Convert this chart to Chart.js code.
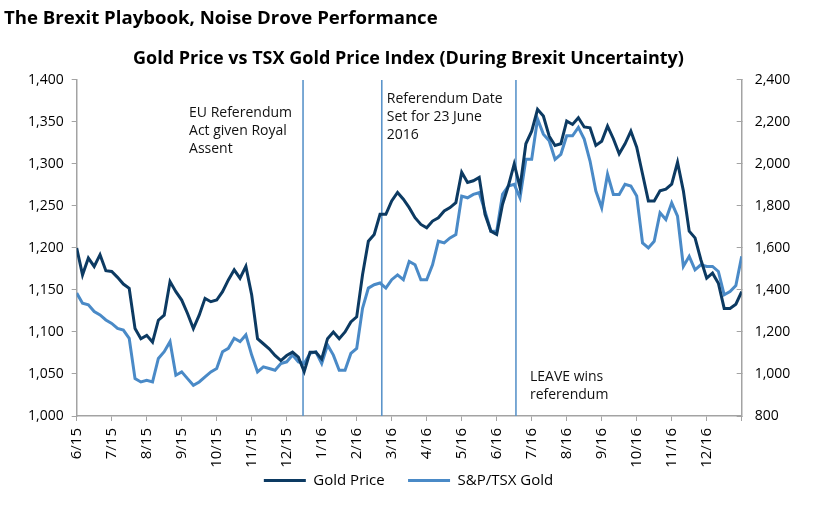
<!DOCTYPE html>
<html>
<head>
<meta charset="utf-8">
<script src="https://cdn.jsdelivr.net/npm/chart.js@4.4.1/dist/chart.umd.min.js"></script>
<style>
  html, body { margin: 0; padding: 0; background: #fff; }
  #wrap { width: 813px; height: 509px; }
</style>
</head>
<body>
<div id="wrap"><canvas id="brexitChart" width="813" height="509"></canvas></div>
<script>
// month tick labels, one every 6 samples
const monthLabels = ['6/15', '7/15', '8/15', '9/15', '10/15', '11/15', '12/15', '1/16', '2/16', '3/16',
  '4/16', '5/16', '6/16', '7/16', '8/16', '9/16', '10/16', '11/16', '12/16'];

// Gold price (left axis), ~6 samples per month
const goldPrice = [
  1200, 1168, 1188, 1178, 1192, 1173, 1172, 1165, 1157, 1152,
  1104, 1092, 1096, 1088, 1114, 1120, 1160, 1148, 1138, 1122,
  1104, 1120, 1140, 1136, 1138, 1148, 1162, 1174, 1164, 1178,
  1144, 1092, 1086, 1080, 1072, 1066, 1072, 1076, 1070, 1053,
  1076, 1076, 1068, 1092, 1100, 1092, 1100, 1112, 1118, 1168,
  1208, 1216, 1240, 1240, 1256, 1266, 1258, 1248, 1236, 1228,
  1224, 1232, 1236, 1244, 1248, 1254, 1290, 1278, 1280, 1284,
  1240, 1220, 1216, 1252, 1274, 1300, 1272, 1324, 1339, 1365,
  1357, 1333, 1322, 1324, 1351, 1347, 1355, 1344, 1343, 1322,
  1327, 1345, 1330, 1312, 1324, 1339, 1320, 1288, 1256, 1256,
  1268, 1270, 1276, 1302, 1268, 1220, 1212, 1186, 1164, 1170,
  1158, 1128, 1128, 1133, 1148
];

// S&P/TSX Gold index (right axis)
const tsxGold = [
  1385, 1337, 1329, 1297, 1281, 1257, 1241, 1217, 1209, 1170,
  978, 962, 970, 962, 1074, 1106, 1154, 994, 1010, 978,
  946, 962, 986, 1010, 1026, 1106, 1122, 1170, 1154, 1186,
  1090, 1010, 1034, 1026, 1018, 1050, 1058, 1090, 1058, 1050,
  1098, 1106, 1050, 1138, 1090, 1018, 1018, 1098, 1122, 1313,
  1409, 1425, 1433, 1409, 1449, 1472, 1449, 1536, 1520, 1449,
  1449, 1520, 1632, 1624, 1648, 1664, 1847, 1839, 1855, 1863,
  1775, 1680, 1680, 1855, 1895, 1903, 1839, 2022, 2022, 2214,
  2142, 2110, 2022, 2046, 2134, 2134, 2174, 2118, 2014, 1871,
  1791, 1951, 1855, 1855, 1903, 1895, 1847, 1624, 1600, 1632,
  1767, 1735, 1815, 1751, 1512, 1560, 1496, 1520, 1512, 1512,
  1488, 1377, 1393, 1421, 1560
];

// event markers (sample index) and their notes
const eventIndex = [38.8, 52.3, 75.3];
const eventText = [
  ['EU Referendum', 'Act given Royal', 'Assent'],
  ['Referendum Date', 'Set for 23 June', '2016'],
  ['LEAVE wins', 'referendum']
];

const DARK = '#0c3a62';
const LIGHT = '#4a8ac7';
const AXIS = '#a3a3a3';
const FONT = "'Open Sans', 'Noto Sans', sans-serif";

const eventLines = {
  id: 'eventLines',
  beforeDatasetsDraw(chart) {
    const { ctx, chartArea, scales } = chart;
    ctx.save();
    ctx.strokeStyle = '#5b94ca';
    ctx.lineWidth = 1.6;
    eventIndex.forEach(v => {
      const px = scales.x.getPixelForValue(v);
      ctx.beginPath();
      ctx.moveTo(px, chartArea.top);
      ctx.lineTo(px, chartArea.bottom);
      ctx.stroke();
    });
    ctx.restore();
  },
  afterDatasetsDraw(chart, args, opts) {
    const { ctx, chartArea, scales } = chart;
    ctx.save();
    ctx.fillStyle = '#111';
    ctx.font = '14px ' + FONT;
    ctx.textAlign = 'left';
    ctx.textBaseline = 'middle';
    eventText.forEach((lines, i) => {
      const spot = opts.spots[i];
      const px = scales.x.getPixelForValue(eventIndex[i]) + spot.dx;
      lines.forEach((t, j) => {
        ctx.fillText(t, px, chartArea.top + spot.dy + j * 18);
      });
    });
    ctx.restore();
  }
};

// month labels turned to read upwards, placed on the x scale's own ticks
const verticalMonths = {
  id: 'verticalMonths',
  afterDraw(chart) {
    const { ctx } = chart;
    const xs = chart.scales.x;
    ctx.save();
    ctx.fillStyle = '#000';
    ctx.font = '15px ' + FONT;
    ctx.textAlign = 'right';
    ctx.textBaseline = 'middle';
    xs.ticks.forEach(t => {
      const lab = monthLabels[t.value / 6];
      if (!lab) return;
      ctx.save();
      ctx.translate(xs.getPixelForValue(t.value), xs.top + 12);
      ctx.rotate(-Math.PI / 2);
      ctx.fillText(lab, 0, 0);
      ctx.restore();
    });
    ctx.restore();
  }
};

const toPoints = arr => arr.map((v, i) => ({ x: i, y: v }));

new Chart(document.getElementById('brexitChart'), {
  type: 'line',
  data: {
    datasets: [{
      label: 'Gold Price',
      data: toPoints(goldPrice),
      yAxisID: 'y',
      borderColor: DARK,
      backgroundColor: DARK,
      borderWidth: 3,
      pointRadius: 0,
      tension: 0
    }, {
      label: 'S&P/TSX Gold',
      data: toPoints(tsxGold),
      yAxisID: 'y1',
      borderColor: LIGHT,
      backgroundColor: LIGHT,
      borderWidth: 3,
      pointRadius: 0,
      tension: 0
    }]
  },
  options: {
    responsive: false,
    animation: false,
    layout: { padding: { left: 4, right: 0, top: 8, bottom: 11 } },
    plugins: {
      title: {
        display: true,
        text: 'The Brexit Playbook, Noise Drove Performance',
        align: 'start',
        color: '#000',
        font: { family: FONT, size: 18.6, weight: 'bold' },
        padding: { top: 0, bottom: 18 }
      },
      subtitle: {
        display: true,
        text: 'Gold Price vs TSX Gold Price Index (During Brexit Uncertainty)',
        align: 'center',
        color: '#000',
        font: { family: FONT, size: 18, weight: 'bold' },
        padding: { top: 0, bottom: 10 }
      },
      legend: {
        position: 'bottom',
        labels: {
          boxWidth: 42,
          boxHeight: 3,
          padding: 0,
          color: '#000',
          font: { family: FONT, size: 15 },
          // legend padding is 0 so it sits right under the labels; keep a gap between the two items
          generateLabels: chart => Chart.defaults.plugins.legend.labels.generateLabels(chart).map((item, i) => {
            if (i === 0) item.text += '      ';
            item.lineWidth = 0;
            return item;
          })
        }
      },
      tooltip: { enabled: false },
      eventLines: {
        spots: [{ dx: -114, dy: 33 }, { dx: 5, dy: 19 }, { dx: 14, dy: 297 }]
      }
    },
    scales: {
      x: {
        type: 'linear',
        min: 0,
        max: 114,
        afterFit: s => { s.height = 57; },
        border: { color: AXIS, width: 1.5 },
        grid: { drawOnChartArea: false, drawTicks: true, tickLength: 5, color: AXIS },
        ticks: {
          stepSize: 6,
          autoSkip: false,
          maxRotation: 0,
          minRotation: 0,
          padding: 7,
          // the library's own labels stay invisible; verticalMonths draws them upright
          color: 'rgba(0,0,0,0)',
          font: { family: FONT, size: 15 },
          callback: v => monthLabels[v / 6] || ''
        }
      },
      y: {
        position: 'left',
        min: 1000,
        max: 1400,
        afterFit: s => { s.width = 72.7; },
        border: { color: AXIS, width: 1.5 },
        grid: { drawOnChartArea: false, drawTicks: true, tickLength: 5, color: AXIS },
        ticks: {
          stepSize: 50,
          padding: 8,
          color: '#000',
          font: { family: FONT, size: 14 },
          callback: v => v.toLocaleString('en-US')
        }
      },
      y1: {
        position: 'right',
        min: 800,
        max: 2400,
        afterFit: s => { s.width = 71.3; },
        border: { color: AXIS, width: 1.5 },
        grid: { drawOnChartArea: false, drawTicks: true, tickLength: -5, color: AXIS },
        ticks: {
          stepSize: 200,
          padding: 18,
          color: '#000',
          font: { family: FONT, size: 14 },
          callback: v => v.toLocaleString('en-US')
        }
      }
    }
  },
  plugins: [eventLines, verticalMonths]
});
</script>
</body>
</html>
